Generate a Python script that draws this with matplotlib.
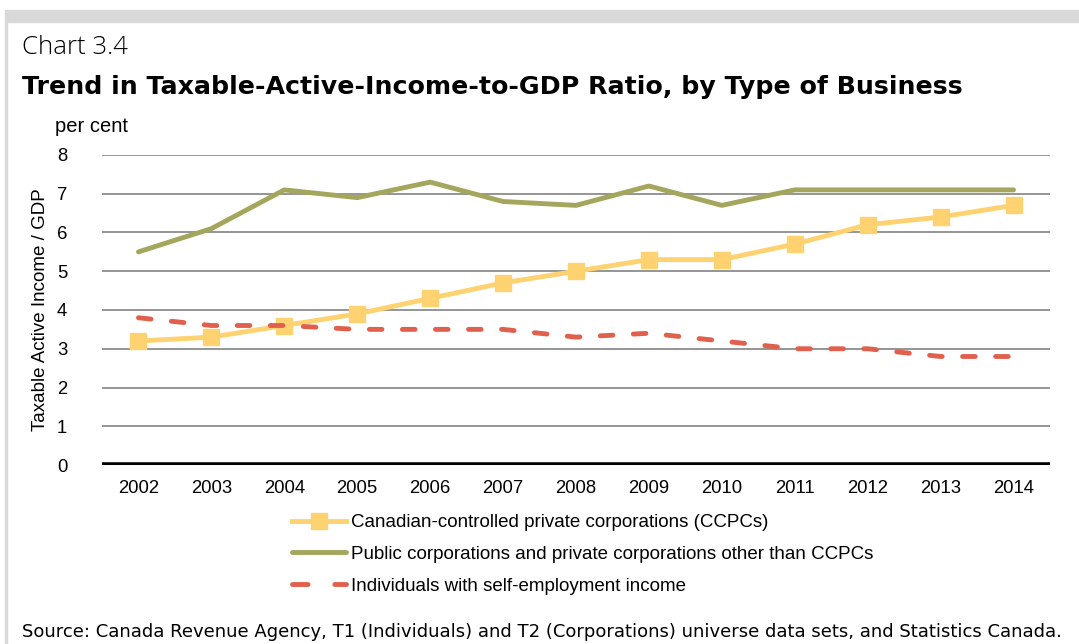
import matplotlib
matplotlib.use("Agg")
import matplotlib.pyplot as plt
from matplotlib.patches import Rectangle
from matplotlib.lines import Line2D

years = ["2002", "2003", "2004", "2005", "2006", "2007", "2008",
         "2009", "2010", "2011", "2012", "2013", "2014"]
ccpc = [3.2, 3.3, 3.6, 3.9, 4.3, 4.7, 5.0, 5.3, 5.3, 5.7, 6.2, 6.4, 6.7]
public = [5.5, 6.1, 7.1, 6.9, 7.3, 6.8, 6.7, 7.2, 6.7, 7.1, 7.1, 7.1, 7.1]
individuals = [3.8, 3.6, 3.6, 3.5, 3.5, 3.5, 3.3, 3.4, 3.2, 3.0, 3.0, 2.8, 2.8]

labels = ["Canadian-controlled private corporations (CCPCs)",
          "Public corporations and private corporations other than CCPCs",
          "Individuals with self-employment income"]

c_ccpc = "#FFD271"
c_public = "#A3A65C"
c_ind = "#E0604D"

plt.rcParams['font.family'] = ['Liberation Sans', 'DejaVu Sans']

fig = plt.figure(figsize=(10.79, 6.44), dpi=100)

# frame decorations
fig.patches.append(Rectangle((5 / 1079, 1 - 22 / 644), 1 - 5 / 1079, 12 / 644,
                             transform=fig.transFigure, color="#D9D9D9", zorder=0))
fig.patches.append(Rectangle((5 / 1079, 0), 2 / 1079, 1 - 22 / 644,
                             transform=fig.transFigure, color="#D9D9D9", zorder=0))

ax = fig.add_axes([102 / 1079, 1 - 465 / 644, 948 / 1079, 310 / 644])

x = list(range(len(years)))
ax.plot(x, ccpc, color=c_ccpc, lw=3.5, marker="s", ms=11, zorder=3,
        solid_capstyle="round")
ax.plot(x, public, color=c_public, lw=3.5, zorder=3, solid_capstyle="round")
ax.plot(x, individuals, color=c_ind, lw=3.5, zorder=3, dashes=(2.6, 4.2),
        dash_capstyle="round")

ax.set_xlim(-0.5, len(years) - 0.5)
ax.set_ylim(0, 8)
ax.set_yticks(range(0, 9))
ax.set_xticks(x)
ax.set_xticklabels(years)
ax.tick_params(length=0, labelsize=13.3, colors="black")
ax.tick_params(axis="y", pad=25)
ax.tick_params(axis="x", pad=11)
for v in range(1, 9):
    ax.axhline(v, color="#8C8C8C", lw=1.3, zorder=1)
ax.axhline(0, color="black", lw=4, zorder=2)
for s in ax.spines.values():
    s.set_visible(False)
ax.set_ylabel("Taxable Active Income / GDP", fontsize=13.5)
ax.yaxis.set_label_coords(-53 / 948, 0.5)

fig.text(55 / 1079, 1 - 127 / 644, "per cent", fontsize=14.5, va="center")
fig.text(22 / 1079, 1 - 47 / 644, "Chart 3.4", fontsize=18.5, va="center",
         family="Open Sans", fontweight="light")
fig.text(22 / 1079, 1 - 87 / 644,
         "Trend in Taxable-Active-Income-to-GDP Ratio, by Type of Business",
         fontsize=18.2, va="center", fontweight="bold", family="DejaVu Sans")

handles = [
    Line2D([], [], color=c_ccpc, lw=3.5, marker="s", ms=11),
    Line2D([], [], color=c_public, lw=3.5, solid_capstyle="round"),
    Line2D([], [], color=c_ind, lw=3.5, dashes=(3.2, 5.5), dash_capstyle="round"),
]
fig.legend(handles, labels, loc="upper left",
           bbox_to_anchor=(292 / 1079, 1 - 514 / 644), frameon=False,
           fontsize=13.5, handlelength=2.9, handletextpad=0.27,
           labelspacing=0.78, borderpad=0, borderaxespad=0)

fig.text(22 / 1079, 1 - 632 / 644,
         "Source: Canada Revenue Agency, T1 (Individuals) and T2 (Corporations) "
         "universe data sets, and Statistics Canada.",
         fontsize=13, va="center", family="DejaVu Sans")

fig.savefig("out.png", dpi=100)
